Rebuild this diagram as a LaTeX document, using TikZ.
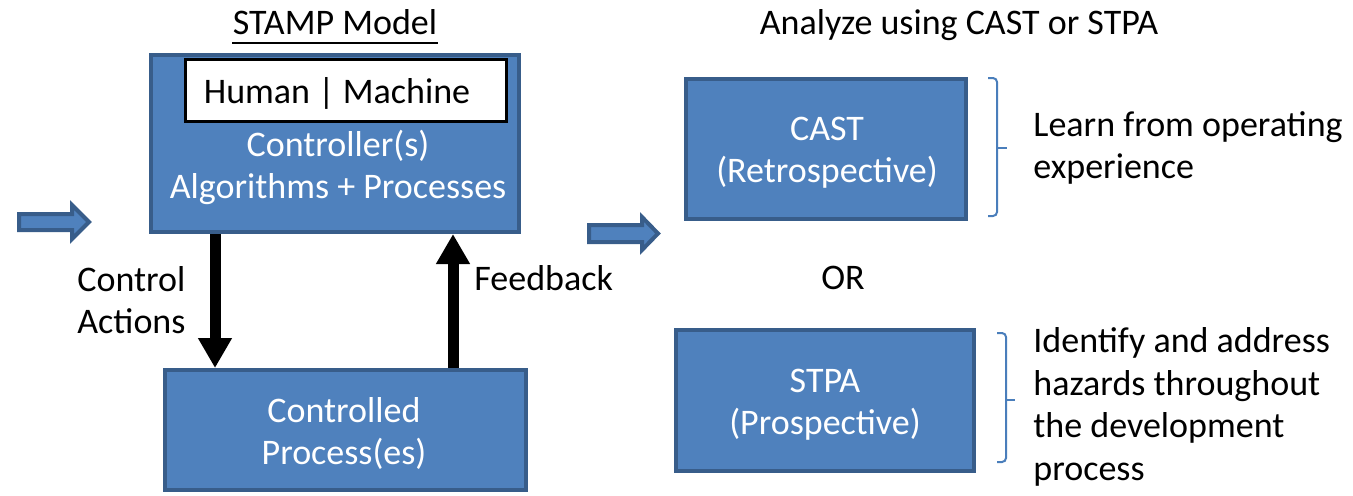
\documentclass[tikz,border=0pt]{standalone}
\usepackage{fontspec}
\setmainfont{Carlito}
\usetikzlibrary{arrows.meta}
\definecolor{boxfill}{HTML}{4F81BD}
\definecolor{boxedge}{HTML}{385D8A}
\definecolor{bracecol}{HTML}{4A7EBB}
\tikzset{
  bluebox/.style={draw=boxedge, fill=boxfill, line width=2pt, inner sep=0pt},
  hmbox/.style={draw=black, fill=white, line width=1.5pt, inner sep=0pt},
  txt/.style={font=\fontsize{18}{21}\selectfont, inner sep=0pt, align=center, text=black},
  whitetxt/.style={txt, text=white},
  bigarrow/.style={line width=5.5pt, -{Triangle[length=15pt,width=16pt]}},
  blockarrow/.style={draw=boxedge, fill=boxfill, line width=2pt, line join=miter},
  bracket/.style={draw=bracecol, line width=1pt, rounded corners=2pt},
}
\begin{document}
\begin{tikzpicture}[x=0.5pt,y=-0.5pt]
\useasboundingbox (0,0) rectangle (1353,495);

% left side
\node[txt] (stamp) at (335,26) {\strut STAMP Model};
\draw[line width=1pt] ([yshift=-4.5pt]stamp.base west) -- ([yshift=-4.5pt]stamp.base east);

\node[bluebox, minimum width=184pt, minimum height=88.5pt] (ctrl) at (335,143.5) {};
\node[hmbox, minimum width=160.5pt, minimum height=31pt] (hm) at (346,90.5) {};
\node[txt] (hmtext) at (337,95) {\strut Human | Machine};
\node[whitetxt] (ctrltext) at (338,169) {\strut Controller(s)\\\strut Algorithms + Processes};

\node[bluebox, minimum width=180.5pt, minimum height=60pt] (proc) at (345.5,430) {};
\node[whitetxt] (proctext) at (344,435.5) {\strut Controlled\\\strut Process(es)};

\coordinate (dx) at (215,0);
\coordinate (ux) at (453,0);
\draw[bigarrow] (ctrl.south -| dx) -- (proc.north -| dx);
\draw[bigarrow] (proc.north -| ux) -- (ctrl.south -| ux);

\node[txt, anchor=west, align=left] (ca) at (77,304.5) {\strut Control\\\strut Actions};
\node[txt, anchor=west, align=left] (fb) at (474,282) {\strut Feedback};

% block arrows
\draw[blockarrow] (19,214) -- (72,214) -- (72,205) -- (89,222) -- (72,239) -- (72,230) -- (19,230) -- cycle;
\draw[blockarrow] (589,225) -- (642,225) -- (642,217) -- (658,233.5) -- (642,250) -- (642,242) -- (589,242) -- cycle;

% right side
\node[txt] (analyze) at (959,26) {\strut Analyze using CAST or STPA};
\node[bluebox, minimum width=140pt, minimum height=70pt] (cast) at (826,149) {};
\node[whitetxt] (casttext) at (827,153.5) {\strut CAST\\\strut (Retrospective)};
\node[txt] (or) at (843,281) {\strut OR};
\node[bluebox, minimum width=149pt, minimum height=70.5pt] (stpa) at (825,400.5) {};
\node[whitetxt] (stpatext) at (825,405.5) {\strut STPA\\\strut (Prospective)};

% brackets
\draw[bracket] (988,78) -- (997,78) -- (997,216) -- (988,216);
\draw[bracket] (997,148) -- (1007,148);
\draw[bracket] (997,333) -- (1006,333) -- (1006,462) -- (997,462);
\draw[bracket] (1006,400) -- (1015,400);

\node[txt, anchor=west, align=left] (learn) at (1033,149.5) {\strut Learn from operating\\\strut experience};
\node[txt, anchor=west, align=left, font=\fontsize{18}{21.3}\selectfont] (ident) at (1033,408) {\strut Identify and address\\\strut hazards throughout\\\strut the development\\\strut process};
\end{tikzpicture}
\end{document}
